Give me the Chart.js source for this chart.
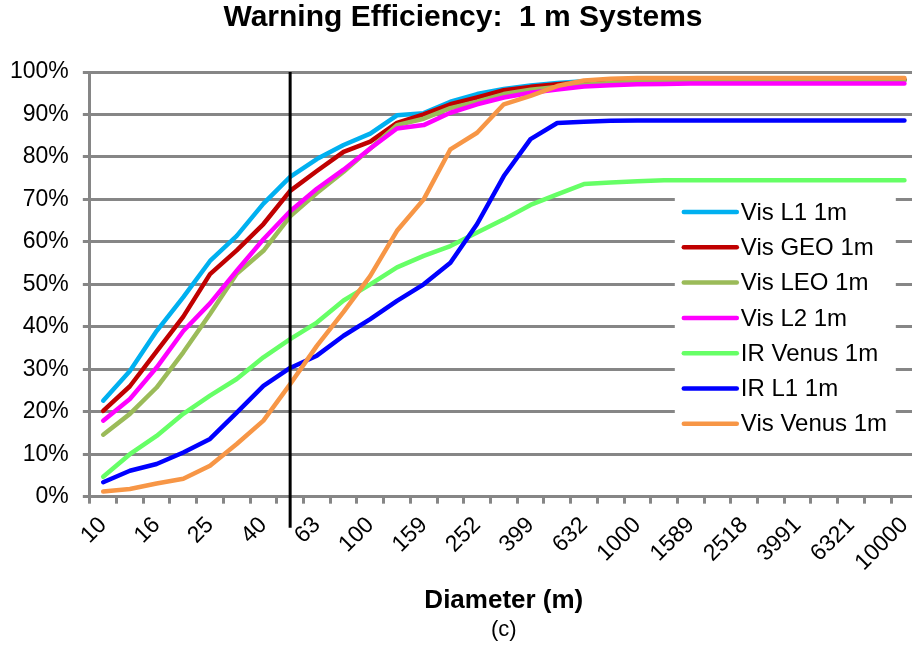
<!DOCTYPE html>
<html>
<head>
<meta charset="utf-8">
<title>Warning Efficiency: 1 m Systems</title>
<script src="https://cdn.jsdelivr.net/npm/chart.js@4.4.1/dist/chart.umd.min.js"></script>
<style>
  html, body { margin: 0; padding: 0; background: #fff; overflow: hidden; }
  #wrap { position: relative; width: 932px; height: 649px; }
</style>
</head>
<body>
<div id="wrap"><canvas id="graphicMain"></canvas></div>
<script>
// Warning efficiency vs diameter, 1 m systems

// --- Data (percent)
const diameters = ['10','13','16','20','25','32','40','50','63','79','100','126','159','200','252','317',
  '399','502','632','796','1000','1262','1589','2000','2518','3170','3991','5024','6321','7962','10000'];

const visL1    = [22.6,29.6,39.0,47.0,55.5,61.4,69.0,75.3,79.5,82.8,85.5,89.8,90.3,93.0,94.8,96.0,
  96.8,97.4,97.8,98.0,98.0,98.1,98.1,98.1,98.1,98.1,98.1,98.1,98.1,98.1,98.1];
const visGEO   = [20.2,26.0,34.2,42.4,52.4,58.0,64.2,72.0,76.7,81.2,83.6,88.0,90.0,92.4,94.0,95.7,
  96.5,97.1,97.6,97.9,98.0,98.1,98.1,98.2,98.2,98.2,98.2,98.2,98.2,98.2,98.2];
const visLEO   = [14.6,19.5,25.7,34.0,43.0,52.5,57.9,66.0,71.5,76.5,82.0,87.5,89.0,91.5,93.0,94.8,
  95.8,96.5,97.0,97.4,97.7,97.9,98.0,98.0,98.0,98.0,98.0,98.0,98.0,98.0,98.0];
const visL2    = [17.9,23.0,30.4,39.0,45.5,53.2,60.6,67.2,72.5,77.0,82.0,86.7,87.5,90.4,92.4,94.0,
  95.1,95.9,96.6,96.9,97.1,97.2,97.3,97.3,97.3,97.3,97.3,97.3,97.3,97.3,97.3];
const irVenus  = [4.7,10.0,14.3,19.5,23.8,27.7,32.8,37.1,41.0,46.2,50.0,54.0,56.7,59.0,62.2,65.3,
  68.7,71.2,73.6,74.0,74.3,74.5,74.5,74.5,74.5,74.5,74.5,74.5,74.5,74.5,74.5];
const irL1     = [3.4,6.1,7.7,10.4,13.6,19.8,26.1,30.3,33.2,37.9,41.8,46.1,50.0,55.1,64.2,75.5,
  84.2,88.0,88.3,88.5,88.6,88.6,88.6,88.6,88.6,88.6,88.6,88.6,88.6,88.6,88.6];
const visVenus = [1.2,1.8,3.1,4.2,7.3,12.4,17.9,26.5,35.5,43.5,52.0,62.6,70.0,81.8,85.7,92.4,
  94.4,96.7,98.0,98.4,98.6,98.6,98.6,98.6,98.6,98.6,98.6,98.6,98.6,98.6,98.6];

const seriesNames  = ['Vis L1 1m','Vis GEO 1m','Vis LEO 1m','Vis L2 1m','IR Venus 1m','IR L1 1m','Vis Venus 1m'];
const seriesValues = [visL1, visGEO, visLEO, visL2, irVenus, irL1, visVenus];
const seriesColors = ['#00B0F0','#C00000','#9BBB59','#FF00FF','#66FF66','#0000FF','#F79646'];

const markerIndex = 7;   // vertical line at 50 m

const yTicks = [0,10,20,30,40,50,60,70,80,90,100];

//--- Styles
const FONT = 'Liberation Sans, Arial, sans-serif';
const GRID = '#868686';

// vertical reference line
const markerLine = {
  id: 'markerLine',
  afterDatasetsDraw(chart) {
    const x = chart.scales.x.getPixelForValue(markerIndex);
    const area = chart.chartArea;
    const ctx = chart.ctx;
    ctx.save();
    ctx.strokeStyle = '#000';
    ctx.lineWidth = 3;
    ctx.beginPath();
    ctx.moveTo(x, area.top);
    ctx.lineTo(x, area.bottom + 31);
    ctx.stroke();
    ctx.restore();
  }
};

// legend inside the plot, over a white box
const boxLegend = {
  id: 'boxLegend',
  afterDraw(chart) {
    const ctx = chart.ctx;
    const area = chart.chartArea;
    const left = area.right - 243, top = area.top + 119;
    const w = 221, h = 255, rowH = 35.3;
    ctx.save();
    ctx.fillStyle = '#fff';
    ctx.fillRect(left, top, w, h);
    ctx.font = '24px ' + FONT;
    ctx.textBaseline = 'middle';
    ctx.lineCap = 'round';
    chart.data.datasets.forEach(function(ds, i) {
      const y = top + 21 + i * rowH;
      ctx.strokeStyle = ds.borderColor;
      ctx.lineWidth = 4.5;
      ctx.beginPath();
      ctx.moveTo(left + 9, y);
      ctx.lineTo(left + 62, y);
      ctx.stroke();
      ctx.fillStyle = '#000';
      ctx.fillText(ds.label, left + 66, y + 1);
    });
    ctx.restore();
  }
};

let chart1;
function drawMain() {
  const ctx = document.getElementById('graphicMain').getContext('2d');
  if (chart1) {
    chart1.destroy();
  }

  const datasets = seriesNames.map(function(name, i) {
    return {
      label: name,
      data: seriesValues[i],
      borderColor: seriesColors[i],
      backgroundColor: seriesColors[i],
      borderWidth: 4.5,
      pointRadius: 0,
      tension: 0,
      borderCapStyle: 'round',
      borderJoinStyle: 'round',
      order: seriesNames.length - i
    };
  });

  chart1 = new Chart(ctx, {
    type: 'line',
    data: { labels: diameters, datasets: datasets },
    plugins: [markerLine, boxLegend],
    options: {
      responsive: true,
      maintainAspectRatio: false,
      animation: false,
      layout: { padding: { left: -4, right: 2, top: 0, bottom: 4 } },
      plugins: {
        legend: { display: false },
        tooltip: { enabled: false },
        title: {
          display: true,
          text: 'Warning Efficiency:  1 m Systems',
          color: '#000',
          font: { family: FONT, size: 30, weight: 'bold' },
          padding: { top: 0, bottom: 36 }
        }
      },
      scales: {
        x: {
          type: 'category',
          offset: true,
          grid: {
            display: true,
            drawOnChartArea: false,
            drawTicks: true,
            tickLength: 7,
            color: GRID,
            lineWidth: 3,
            offset: true
          },
          border: { display: true, color: GRID, width: 3 },
          ticks: {
            autoSkip: false,
            maxRotation: 45,
            minRotation: 45,
            color: '#000',
            padding: 8,
            font: { family: FONT, size: 23 },
            callback: function(val, i) {
              return i % 2 === 0 ? this.getLabelForValue(val) : '';
            }
          },
          title: {
            display: true,
            text: 'Diameter (m)',
            color: '#000',
            font: { family: FONT, size: 26, weight: 'bold' },
            padding: { top: 1, bottom: 0 }
          }
        },
        x2: {
          type: 'category',
          position: 'bottom',
          labels: diameters,
          grid: { display: false },
          border: { display: false },
          ticks: { display: false },
          title: {
            display: true,
            text: '(c)',
            color: '#000',
            font: { family: FONT, size: 22 },
            padding: { top: -8, bottom: 2 }
          }
        },
        y: {
          min: 0,
          max: 100,
          afterBuildTicks: function(scale) {
            scale.ticks = yTicks.map(function(v) { return { value: v }; });
          },
          grid: {
            color: GRID,
            lineWidth: 3,
            tickLength: 7
          },
          border: { display: true, color: GRID, width: 3 },
          ticks: {
            color: '#000',
            padding: 14,
            font: { family: FONT, size: 23 },
            callback: function(v) { return v + '%'; }
          }
        }
      }
    }
  });
}

drawMain();
</script>
</body>
</html>
